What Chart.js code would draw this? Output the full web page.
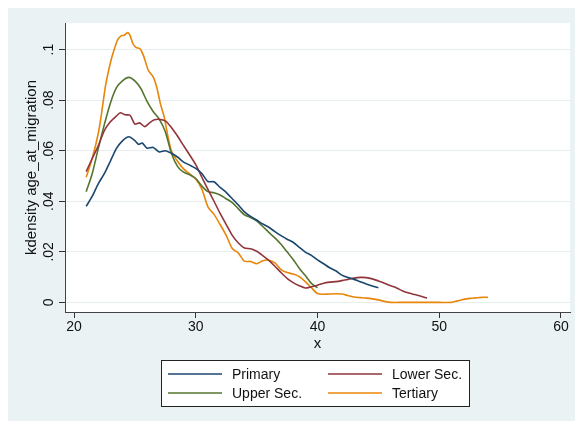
<!DOCTYPE html>
<html>
<head>
<meta charset="utf-8">
<script src="https://cdn.jsdelivr.net/npm/chart.js@4"></script>
<style>
  html, body { margin: 0; padding: 0; background: #fff; }
  #wrap { width: 575px; height: 421px; }
</style>
</head>
<body>
<div id="wrap"><canvas id="kdens"></canvas></div>
<script>
// kdensity of age at migration, by education level
const primaryAge = [21, 21.5, 22, 22.5, 23, 23.5, 24, 24.5, 25, 25.3, 25.6, 26, 26.5, 27, 27.5, 28, 28.5, 29, 29.5, 30, 30.5, 31, 31.5, 32, 32.5, 33, 33.5, 34, 34.5, 35, 35.5, 36, 36.5, 37, 37.5, 38, 38.5, 39, 39.5, 40, 40.5, 41, 41.5, 42, 42.5, 43, 43.5, 44, 44.5, 45];
const primaryDens = [0.038, 0.042, 0.047, 0.051, 0.056, 0.061, 0.064, 0.0655, 0.064, 0.0625, 0.063, 0.061, 0.0613, 0.0595, 0.060, 0.059, 0.0575, 0.0555, 0.0543, 0.053, 0.051, 0.0478, 0.0477, 0.0455, 0.0435, 0.041, 0.0385, 0.0358, 0.034, 0.0326, 0.031, 0.0297, 0.028, 0.0264, 0.025, 0.0238, 0.0218, 0.0199, 0.0186, 0.0168, 0.0153, 0.0137, 0.0125, 0.0108, 0.0098, 0.0091, 0.0082, 0.0073, 0.0065, 0.0058];

const lowerAge = [21, 21.5, 22, 22.5, 23, 23.5, 23.8, 24.2, 24.6, 25, 25.4, 25.8, 26.2, 26.6, 27, 27.5, 28, 28.5, 29, 29.5, 30, 30.5, 31, 31.5, 32, 32.5, 33, 33.5, 34, 34.5, 35, 35.5, 36, 36.5, 37, 37.5, 38, 38.5, 39, 39.5, 40, 40.5, 41, 41.5, 42, 42.5, 43, 43.5, 44, 44.5, 45, 45.5, 46, 46.5, 47, 47.5, 48, 48.5, 49];
const lowerDens = [0.0517, 0.057, 0.062, 0.068, 0.0715, 0.0738, 0.075, 0.0742, 0.074, 0.0705, 0.071, 0.0695, 0.071, 0.0722, 0.0724, 0.0718, 0.0692, 0.0658, 0.062, 0.0583, 0.0545, 0.0495, 0.0447, 0.040, 0.0352, 0.0308, 0.0265, 0.0235, 0.0215, 0.0212, 0.0202, 0.0185, 0.0166, 0.0143, 0.0118, 0.0095, 0.0078, 0.0066, 0.0057, 0.0062, 0.0068, 0.0076, 0.008, 0.0082, 0.0086, 0.0091, 0.0096, 0.0099, 0.0098, 0.0093, 0.0085, 0.0076, 0.0066, 0.0057, 0.0045, 0.0037, 0.0031, 0.0024, 0.0017];

const upperAge = [21, 21.5, 22, 22.5, 23, 23.5, 24, 24.5, 25, 25.5, 26, 26.5, 27, 27.5, 28, 28.5, 29, 29.5, 30, 30.5, 31, 31.5, 32, 32.5, 33, 33.5, 34, 34.5, 35, 35.5, 36, 36.5, 37, 37.5, 38, 38.5, 39, 39.5, 40];
const upperDens = [0.0438, 0.051, 0.061, 0.0705, 0.079, 0.085, 0.0877, 0.089, 0.0876, 0.0845, 0.0795, 0.0755, 0.0725, 0.0675, 0.059, 0.0538, 0.0515, 0.0505, 0.049, 0.046, 0.0438, 0.0434, 0.0425, 0.041, 0.0395, 0.037, 0.0346, 0.0336, 0.0322, 0.030, 0.0277, 0.0255, 0.023, 0.020, 0.017, 0.0135, 0.0106, 0.0075, 0.0058];

const tertiaryAge = [21, 21.5, 22, 22.3, 22.6, 23, 23.3, 23.6, 23.9, 24.1, 24.4, 24.6, 24.85, 25.1, 25.4, 25.7, 26.1, 26.5, 26.8, 27.1, 27.4, 27.7, 28, 28.5, 29, 29.5, 30, 30.5, 31, 31.5, 32, 32.5, 33, 33.5, 34, 34.5, 35, 35.5, 36, 36.5, 37, 37.5, 38, 38.5, 39, 39.5, 40, 40.5, 41, 41.5, 42, 42.5, 43, 43.5, 44, 44.5, 45, 45.5, 46, 47, 48, 49, 50, 51, 51.5, 52, 52.5, 53, 53.5, 54];
const tertiaryDens = [0.0495, 0.057, 0.067, 0.076, 0.086, 0.095, 0.100, 0.104, 0.1055, 0.1056, 0.1067, 0.1056, 0.1022, 0.1008, 0.1004, 0.0977, 0.0918, 0.0892, 0.085, 0.0785, 0.0735, 0.066, 0.060, 0.0558, 0.0528, 0.0508, 0.0488, 0.0448, 0.0378, 0.0348, 0.0308, 0.0265, 0.0213, 0.0195, 0.0163, 0.0162, 0.0153, 0.0165, 0.0167, 0.0156, 0.013, 0.0118, 0.0112, 0.0102, 0.0082, 0.0058, 0.0035, 0.0032, 0.0033, 0.0034, 0.0033, 0.0027, 0.0021, 0.0019, 0.0017, 0.0014, 0.001, 0.0004, 0, 0, 0, 0, 0, 0, 0.0006, 0.0012, 0.0016, 0.0018, 0.002, 0.002];

const seriesNames = ['Primary', 'Lower Sec.', 'Upper Sec.', 'Tertiary'];
const seriesColors = ['#1a476f', '#90353b', '#55752f', '#e8860a'];

const xTicks = [20, 30, 40, 50, 60];
const yTicks = [0, 0.02, 0.04, 0.06, 0.08, 0.1];

const FONT = '"Liberation Sans", Arial, sans-serif';

const toPoints = (ages, dens) => ages.map((a, i) => ({ x: a, y: dens[i] }));

const fmtDensity = v => v === 0 ? '0' : String(+v.toFixed(2)).replace(/^0/, '');

// stata-like frame: grey graph region, white plot region, rotated y labels, boxed legend
const stataFrame = {
    id: 'stataFrame',
    beforeDraw(chart) {
        const { ctx, chartArea: a } = chart;
        ctx.save();
        ctx.fillStyle = '#fff';
        ctx.fillRect(0, 0, chart.width, chart.height);
        ctx.fillStyle = '#eaf2f3';
        ctx.fillRect(8, 8, chart.width - 8, chart.height - 8);
        ctx.fillStyle = '#fff';
        ctx.fillRect(a.left, a.top, a.right - a.left, a.bottom - a.top);
        ctx.restore();
    },
    afterDraw(chart) {
        const { ctx, chartArea: a } = chart;
        const yScale = chart.scales.y;
        ctx.save();
        ctx.fillStyle = '#111';

        // y tick labels, reading bottom to top
        ctx.font = '14px ' + FONT;
        ctx.textAlign = 'center';
        ctx.textBaseline = 'middle';
        yScale.ticks.forEach(t => {
            ctx.save();
            ctx.translate(49, yScale.getPixelForValue(t.value));
            ctx.rotate(-Math.PI / 2);
            ctx.fillText(fmtDensity(t.value), 0, 0);
            ctx.restore();
        });

        // axis titles
        ctx.font = '15px ' + FONT;
        ctx.save();
        ctx.translate(32, (a.top + a.bottom) / 2);
        ctx.rotate(-Math.PI / 2);
        ctx.fillText('kdensity age_at_migration', 0, 0);
        ctx.restore();
        ctx.fillText('x', (a.left + a.right) / 2, 344);

        // legend box
        ctx.fillStyle = '#fff';
        ctx.fillRect(161.5, 360.5, 308, 46);
        ctx.strokeStyle = '#222';
        ctx.lineWidth = 1;
        ctx.strokeRect(161.5, 360.5, 308, 46);

        ctx.font = '14px ' + FONT;
        ctx.textAlign = 'left';
        chart.data.datasets.forEach((ds, i) => {
            const col = i % 2, row = Math.floor(i / 2);
            const lx = col === 0 ? 168 : 328;
            const ly = row === 0 ? 374 : 393;
            ctx.strokeStyle = ds.borderColor;
            ctx.lineWidth = 1.6;
            ctx.beginPath();
            ctx.moveTo(lx, ly);
            ctx.lineTo(lx + 54, ly);
            ctx.stroke();
            ctx.fillStyle = '#111';
            ctx.fillText(ds.label, lx + 64, ly + 1);
        });
        ctx.restore();
    }
};

const densities = [
    toPoints(primaryAge, primaryDens),
    toPoints(lowerAge, lowerDens),
    toPoints(upperAge, upperDens),
    toPoints(tertiaryAge, tertiaryDens)
];

new Chart(document.getElementById('kdens'), {
    type: 'line',
    data: {
        datasets: densities.map((pts, i) => ({
            label: seriesNames[i],
            data: pts,
            borderColor: seriesColors[i],
            borderWidth: 1.6,
            pointRadius: 0,
            tension: 0.25,
            fill: false
        }))
    },
    options: {
        responsive: true,
        maintainAspectRatio: false,
        animation: false,
        layout: { padding: { left: 0, top: 23, right: 5, bottom: 0 } },
        plugins: {
            legend: { display: false },
            tooltip: { enabled: false }
        },
        scales: {
            x: {
                type: 'linear',
                min: 19.26,
                max: 60.74,
                afterBuildTicks: scale => { scale.ticks = xTicks.map(v => ({ value: v })); },
                afterFit: scale => { scale.height = 109; },
                grid: { drawOnChartArea: false, tickColor: '#333', tickLength: 6 },
                border: { color: '#444', width: 1 },
                ticks: {
                    color: '#111',
                    font: { family: FONT, size: 14 },
                    padding: 1,
                    maxRotation: 0
                }
            },
            y: {
                type: 'linear',
                min: -0.0038,
                max: 0.1105,
                afterBuildTicks: scale => { scale.ticks = yTicks.map(v => ({ value: v })); },
                afterFit: scale => { scale.width = 65; },
                grid: { color: '#e6eef0', tickColor: '#333', tickLength: 6 },
                border: { color: '#444', width: 1 },
                ticks: { display: false }
            }
        }
    },
    plugins: [stataFrame]
});
</script>
</body>
</html>
